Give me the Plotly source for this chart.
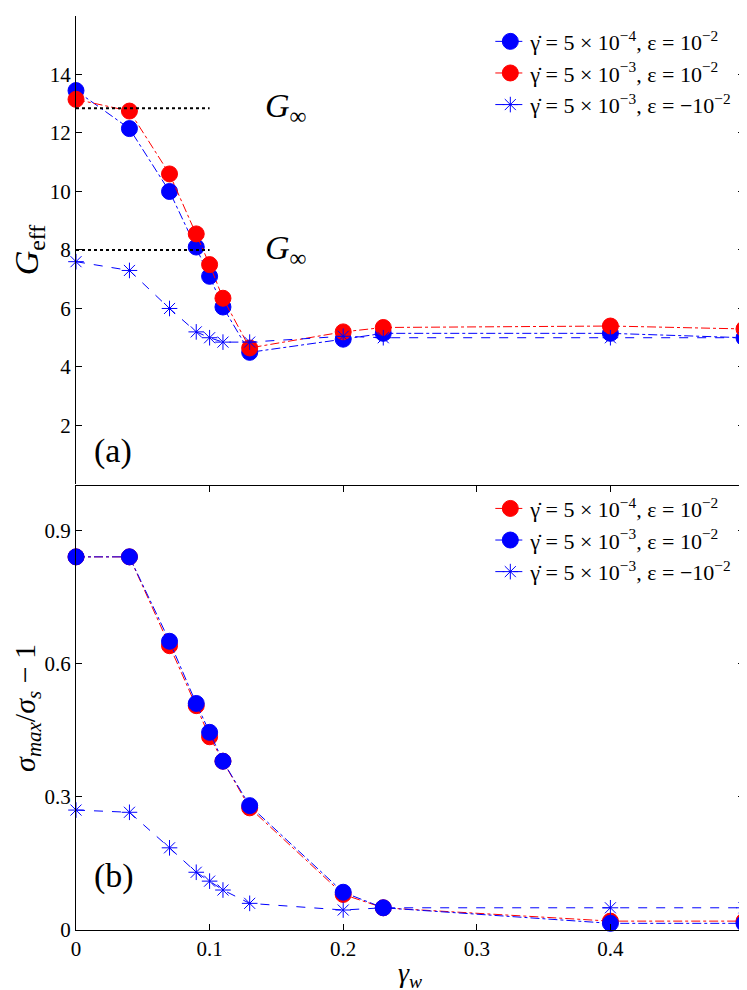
import plotly.graph_objects as go

gw = [0, 0.04, 0.07, 0.09, 0.1, 0.11, 0.13, 0.2, 0.23, 0.4, 0.5]
# panel (a)
g_a1 = [13.45, 12.15, 10.0, 8.1, 7.1, 6.05, 4.5, 4.95, 5.15, 5.15, 5.0]
g_a2 = [13.15, 12.75, 10.6, 8.55, 7.5, 6.35, 4.65, 5.2, 5.35, 5.4, 5.3]
g_a3 = [7.6, 7.3, 6.0, 5.2, 5.0, 4.85, 4.85, 5.05, 5.0, 5.0, 5.0]
# panel (b)
s_b1 = [0.84, 0.84, 0.64, 0.505, 0.435, 0.38, 0.275, 0.08, 0.05, 0.02, 0.02]
s_b2 = [0.84, 0.84, 0.65, 0.51, 0.445, 0.38, 0.28, 0.085, 0.05, 0.015, 0.015]
s_b3 = [0.27, 0.265, 0.185, 0.13, 0.11, 0.09, 0.06, 0.045, 0.05, 0.05, 0.05]
ginf_x = [0, 0.1]
ginf_hi = [12.85, 12.85]
ginf_lo = [8.0, 8.0]
xticks = [0, 0.1, 0.2, 0.3, 0.4, 0.5]
xticktext = ["0", "0.1", "0.2", "0.3", "0.4", "0.5"]
ya_ticks = [2, 4, 6, 8, 10, 12, 14, 16]
yb_ticks = [0, 0.3, 0.6, 0.9]

L1 = "γ̇ = 5 × 10<sup>−4</sup>, ε = 10<sup>−2</sup>"
L2 = "γ̇ = 5 × 10<sup>−3</sup>, ε = 10<sup>−2</sup>"
L3 = "γ̇ = 5 × 10<sup>−3</sup>, ε = −10<sup>−2</sup>"
BLUE, RED = "#0000ff", "#ff0000"
FONT = "Liberation Serif"

fig = go.Figure()
def add(y, name, color, dash, sym, size, xa, ya, leg):
    fig.add_trace(go.Scatter(x=gw, y=y, name=name, mode="lines+markers",
        line=dict(color=color, width=1, dash=dash), cliponaxis=False,
        marker=dict(color=color, symbol=sym, size=size,
                    line=dict(color=color, width=1)),
        xaxis=xa, yaxis=ya, legend=leg))

add(g_a1, L1, BLUE, "dashdot", "circle", 16, "x", "y2", "legend")
add(g_a2, L2, RED, "dashdot", "circle", 16, "x", "y2", "legend")
add(g_a3, L3, BLUE, "dash", "asterisk-open", 13, "x", "y2", "legend")
add(s_b1, L1, RED, "dashdot", "circle", 16, "x", "y", "legend2")
add(s_b2, L2, BLUE, "dashdot", "circle", 16, "x", "y", "legend2")
add(s_b3, L3, BLUE, "dash", "asterisk-open", 13, "x", "y", "legend2")
for yy in (ginf_hi, ginf_lo):
    fig.add_trace(go.Scatter(x=ginf_x, y=yy, mode="lines", showlegend=False,
        line=dict(color="black", width=2, dash="dot"), xaxis="x", yaxis="y2"))

ax = dict(showline=True, linecolor="black", linewidth=1, mirror="ticks",
          ticks="inside", ticklen=6, tickcolor="black", showgrid=False,
          zeroline=False, tickfont=dict(size=21, family=FONT, color="black"))
fig.update_layout(
    width=747, height=990, plot_bgcolor="white", paper_bgcolor="white",
    margin=dict(l=68, r=11, t=8, b=68),
    font=dict(family=FONT, color="black"),
    xaxis=dict(ax, range=[0, 0.5], tickvals=xticks, ticktext=xticktext,
               title=dict(text="<i>γ<sub>w</sub></i>", font=dict(size=28), standoff=2)),
    yaxis=dict(ax, domain=[0, 0.486], range=[0, 1], tickvals=yb_ticks,
               title=dict(text="<i>σ<sub>max</sub></i>/<i>σ<sub>s</sub></i> − 1",
                          font=dict(size=30), standoff=4)),
    yaxis2=dict(ax, domain=[0.488, 1], range=[0, 16], tickvals=ya_ticks, anchor="x",
                title=dict(text="<i>G</i><sub>eff</sub>", font=dict(size=34), standoff=4)),
    legend=dict(x=0.99, y=0.995, xanchor="right", yanchor="top",
                bgcolor="rgba(0,0,0,0)", font=dict(size=22, family=FONT)),
    legend2=dict(x=0.99, y=0.484, xanchor="right", yanchor="top",
                 bgcolor="rgba(0,0,0,0)", font=dict(size=22, family=FONT)),
    annotations=[
        dict(x=0.14, y=12.85, xref="x", yref="y2", text="<i>G</i><sub>∞</sub>",
             showarrow=False, font=dict(size=34), xanchor="left"),
        dict(x=0.14, y=8.0, xref="x", yref="y2", text="<i>G</i><sub>∞</sub>",
             showarrow=False, font=dict(size=34), xanchor="left"),
        dict(x=0.012, y=0.4, xref="x", yref="y2", text="(a)", showarrow=False,
             font=dict(size=34), xanchor="left", yanchor="bottom"),
        dict(x=0.012, y=0.075, xref="x", yref="y", text="(b)", showarrow=False,
             font=dict(size=34), xanchor="left", yanchor="bottom"),
    ],
)
fig.write_html("out.html")
